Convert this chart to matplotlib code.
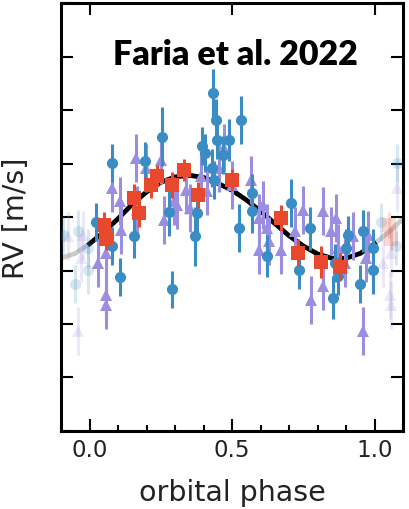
import numpy as np
import matplotlib
matplotlib.use("Agg")
import matplotlib.pyplot as plt

# blue circles: phase, rv, error
blue_phase = [0.024, 0.080, 0.077, 0.105, 0.157, 0.195, 0.255, 0.279, 0.290, 0.370,
              0.377, 0.394, 0.405, 0.429, 0.436, 0.433, 0.443, 0.446, 0.467, 0.488,
              0.530, 0.523, 0.569, 0.569, 0.621, 0.708, 0.736, 0.774, 0.855, 0.861,
              0.872, 0.900, 0.907, 0.949, 0.959, 0.995, 0.995]
blue_rv = [-0.09, 1.01, -0.54, -1.12, -0.36, 1.05, 1.50, 0.09, -1.35, -0.36,
           0.07, 1.33, 1.20, 0.92, 0.69, 2.32, 1.81, 1.44, 1.16, 1.44,
           1.81, -0.21, 0.45, 0.11, -0.73, 0.26, -0.99, -0.21, -1.51, -0.86,
           -1.10, -0.58, -0.34, -1.25, -0.26, -0.58, -0.99]
blue_err = [0.35, 0.35, 0.35, 0.35, 0.40, 0.35, 0.55, 0.45, 0.35, 0.55,
            0.45, 0.35, 0.35, 0.35, 0.35, 0.45, 0.40, 0.35, 0.35, 0.40,
            0.45, 0.45, 0.35, 0.40, 0.40, 0.45, 0.35, 0.40, 0.40, 0.35,
            0.35, 0.35, 0.35, 0.35, 0.40, 0.35, 0.45]

# purple triangles
purple_phase = [0.028, 0.059, 0.056, 0.058, 0.080, 0.105, 0.112, 0.164, 0.167, 0.199,
                0.251, 0.262, 0.296, 0.307, 0.338, 0.352, 0.391, 0.412, 0.453, 0.471,
                0.499, 0.565, 0.593, 0.610, 0.621, 0.593, 0.628, 0.673, 0.750, 0.722,
                0.820, 0.778, 0.820, 0.848, 0.865, 0.872, 0.896, 0.924, 0.959, 0.977,
                0.970]
purple_rv = [-0.86, -0.67, -1.46, -1.64, 0.54, 0.30, -0.24, 1.10, 0.13, 0.92,
             1.07, -0.06, 0.30, 0.22, 0.50, 0.17, 0.77, 0.49, 0.92, 1.29,
             0.60, 0.69, -0.02, 0.22, -0.21, -0.62, -0.45, -0.62, 0.13, -0.26,
             0.11, -1.55, -1.29, -0.26, -0.02, -0.58, -0.86, -0.36, -2.13, -0.34,
             -0.77]
purple_err = [0.45] * len(purple_phase)

# red squares (binned)
red_phase = [0.052, 0.059, 0.157, 0.174, 0.216, 0.237, 0.290, 0.331, 0.380, 0.499,
             0.673, 0.732, 0.813, 0.879]
red_rv = [-0.15, -0.41, 0.36, 0.07, 0.60, 0.77, 0.60, 0.88, 0.41, 0.69,
          -0.02, -0.67, -0.84, -0.93]
red_err = [0.25, 0.20, 0.25, 0.25, 0.25, 0.20, 0.25, 0.20, 0.25, 0.20,
           0.25, 0.25, 0.30, 0.25]

# keplerian model over one phase
model_phase = [0.00, 0.05, 0.10, 0.15, 0.20, 0.25, 0.30, 0.35, 0.40, 0.45, 0.50,
               0.55, 0.60, 0.65, 0.70, 0.75, 0.80, 0.85, 0.90, 0.95, 1.00]
model_rv = [-0.50, -0.28, -0.03, 0.24, 0.47, 0.65, 0.75, 0.78, 0.74, 0.63, 0.50,
            0.32, 0.11, -0.12, -0.35, -0.54, -0.69, -0.77, -0.77, -0.68, -0.50]

xticks = [0.0, 0.5, 1.0]
xticklabels = ["0.0", "0.5", "1.0"]

c_blue = "#3a8cc4"
c_purple = "#9b8de0"
c_red = "#e8492d"
txt = "#222222"

fig = plt.figure(figsize=(4.1, 5.1), dpi=100)
ax = fig.add_axes([0.149, 0.153, 0.834, 0.839])

mp = np.array(model_phase)
mr = np.array(model_rv)
ax.plot(np.concatenate([mp[:-1] - 1, mp, mp[1:] + 1]),
        np.concatenate([mr[:-1], mr, mr[1:]]),
        color="#999999", alpha=0.5, lw=3.4, zorder=1)
ax.plot(mp, mr, color="black", lw=3.4, zorder=2)


def draw(ph, rv, err, color, marker, ms, z):
    ph = np.array(ph)
    rv = np.array(rv)
    err = np.array(err)
    ax.errorbar(ph, rv, yerr=err, fmt=marker, color=color, ms=ms, elinewidth=2.2,
                capsize=0, mew=0, zorder=z)
    # wrapped copies outside [0, 1]
    lo = ph > 0.9
    hi = ph < 0.1
    wp = np.concatenate([ph[lo] - 1, ph[hi] + 1])
    wr = np.concatenate([rv[lo], rv[hi]])
    we = np.concatenate([err[lo], err[hi]])
    ax.errorbar(wp, wr, yerr=we, fmt=marker, color=color, ms=ms, elinewidth=2.2,
                capsize=0, mew=0, alpha=0.2, zorder=z)


draw(purple_phase, purple_rv, purple_err, c_purple, "^", 8.5, 3)
draw(blue_phase, blue_rv, blue_err, c_blue, "o", 8, 4)
draw(red_phase, red_rv, red_err, c_red, "s", 10, 5)

ax.set_xlim(-0.1, 1.09)
ax.set_ylim(-4, 4)
ax.set_xticks(xticks)
ax.set_xticklabels(xticklabels)
ax.set_xticks(np.arange(-0.1, 1.1, 0.1), minor=True)
ax.set_yticks(np.arange(-4, 5, 1))
ax.set_yticklabels([])
ax.tick_params(which="both", direction="in", top=True, right=True, width=1.5,
               labelsize=16.5, labelcolor=txt, pad=5)
ax.tick_params(which="major", length=8.6)
ax.tick_params(which="minor", length=4.3, top=False)
for s in ax.spines.values():
    s.set_linewidth(2.2)

ax.set_xlabel("orbital phase", fontsize=20.5, color=txt)
ax.set_ylabel("RV [m/s]", fontsize=20.5, color=txt)
ax.yaxis.set_label_coords(-0.09, 0.5)
ax.xaxis.set_label_coords(0.5, -0.11)

ax.text(0.509, 0.881, "Faria et al. 2022", transform=ax.transAxes, ha="center",
        va="center", fontsize=24.5, fontweight="heavy", family="Lato", color="black",
        zorder=10)

fig.savefig("out.png", dpi=100)
